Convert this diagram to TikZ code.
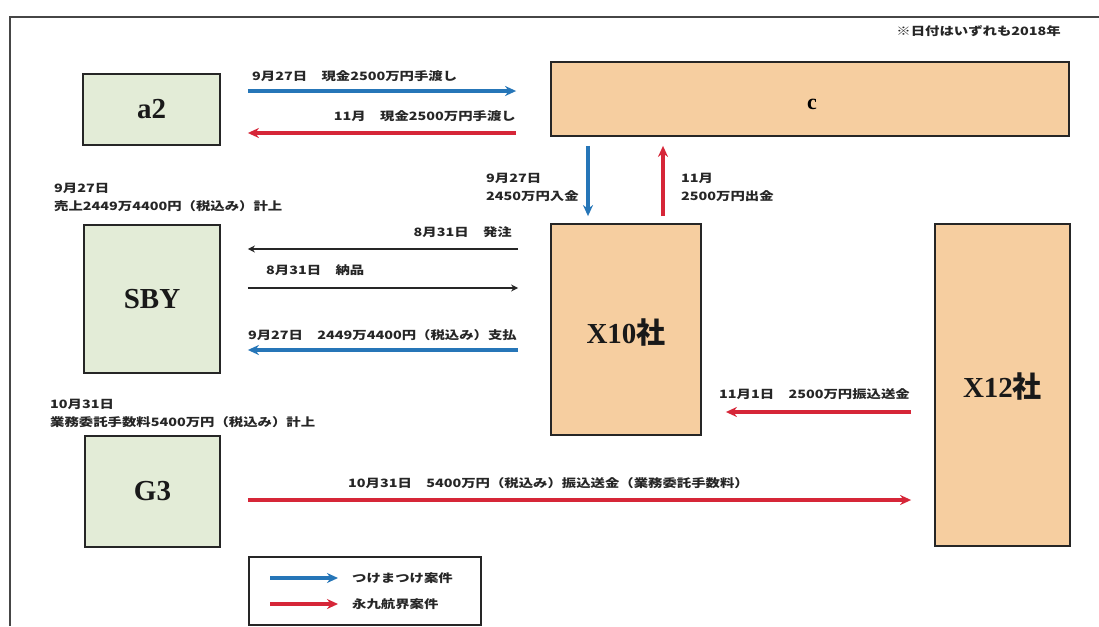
\documentclass[tikz,border=0pt]{standalone}
\usepackage{fontspec}
\setmainfont{Liberation Serif}
\newfontfamily\jp[FakeStretch=1.25]{Noto Sans CJK JP}
\newfontfamily\jpn{Noto Sans CJK JP}
\usetikzlibrary{arrows.meta}
\definecolor{arrblue}{RGB}{38,118,184}
\definecolor{arrred}{RGB}{214,38,56}
\definecolor{boxgreen}{RGB}{227,236,215}
\definecolor{boxtan}{RGB}{246,206,160}
\definecolor{frameline}{RGB}{70,70,70}
\tikzset{
  greenbox/.style={draw=black!85, line width=1.8pt, fill=boxgreen, inner sep=0pt},
  tanbox/.style={draw=black!85, line width=1.8pt, fill=boxtan, inner sep=0pt},
  boxlabel/.style={font=\fontsize{29}{30}\selectfont\bfseries, text=black!90},
  lbl/.style={font=\jp\bfseries\fontsize{11.5}{18}\selectfont, inner sep=0pt, align=left, text=black!85},
  bluearr/.style={draw=arrblue, line width=3.6pt, -{Stealth[length=11pt,width=10pt]}},
  redarr/.style={draw=arrred, line width=3.6pt, -{Stealth[length=11pt,width=10pt]}},
  blackarr/.style={draw=black!85, line width=1.8pt, -{Stealth[length=7pt,width=7pt]}},
}
\begin{document}
\begin{tikzpicture}[x=1pt,y=-1pt]
\useasboundingbox (0,0) rectangle (1099,626);
\fill[white] (0,0) rectangle (1099,626);
% frame
\draw[frameline, line width=2pt] (1099,17) -- (10,17) -- (10,626);

% boxes
\node[greenbox, minimum width=137pt, minimum height=71pt] (a2) at (151.5,109.5) {};
\node[boxlabel] at (a2) {a2};
\node[tanbox, minimum width=518pt, minimum height=74pt] (c) at (810,99) {};
\node[font=\fontsize{22}{22}\selectfont\bfseries] at (812,104) {c};
\node[greenbox, minimum width=136pt, minimum height=148pt] (sby) at (152,299) {};
\node[boxlabel] at (sby) {SBY};
\node[tanbox, minimum width=150pt, minimum height=211pt] (x10) at (626,329.5) {};
\node[boxlabel] at ([yshift=-3pt]x10.center) {X10{\jpn 社}};
\node[tanbox, minimum width=135pt, minimum height=322pt] (x12) at (1002.5,385) {};
\node[boxlabel] at ([yshift=-2pt]x12.center) {X12{\jpn 社}};
\node[greenbox, minimum width=135pt, minimum height=111pt] (g3) at (152.5,491.5) {};
\node[boxlabel] at (g3) {G3};

% legend
\node[draw=black!85, line width=1.5pt, fill=white, minimum width=232pt, minimum height=68pt, inner sep=0pt] (legend) at (365,591) {};
\coordinate (lb1) at (270,578);
\coordinate (lb2) at (338,578);
\coordinate (lr1) at (270,604);
\coordinate (lr2) at (338,604);
\draw[bluearr] (lb1) -- (lb2);
\draw[redarr] (lr1) -- (lr2);
\node[lbl, anchor=west] at (352,578) {つけまつけ案件};
\node[lbl, anchor=west] at (352,604) {永九航界案件};

% note
\node[lbl, anchor=east] at (1061,31) {※日付はいずれも2018年};

% connectors
\draw[bluearr] ([xshift=27pt,yshift=18.5pt]a2.east) -- ([xshift=-34pt,yshift=8pt]c.west);
\draw[redarr] ([xshift=-34pt,yshift=-34pt]c.west) -- ([xshift=27pt,yshift=-23.5pt]a2.east);
\draw[bluearr] ([xshift=-222pt,yshift=-9pt]c.south) -- ([xshift=-38pt,yshift=7pt]x10.north);
\draw[redarr] ([xshift=37pt,yshift=7pt]x10.north) -- ([xshift=-147pt,yshift=-9pt]c.south);
\draw[blackarr] ([xshift=-32pt,yshift=80.5pt]x10.west) -- ([xshift=27pt,yshift=50pt]sby.east);
\draw[blackarr] ([xshift=27pt,yshift=11pt]sby.east) -- ([xshift=-32pt,yshift=41.5pt]x10.west);
\draw[bluearr] ([xshift=-32pt,yshift=-20.5pt]x10.west) -- ([xshift=27pt,yshift=-51pt]sby.east);
\draw[redarr] ([xshift=-23pt,yshift=-27pt]x12.west) -- ([xshift=24pt,yshift=-82.5pt]x10.east);
\draw[redarr] ([xshift=27pt,yshift=-8.5pt]g3.east) -- ([xshift=-23pt,yshift=-115pt]x12.west);

% labels
\node[lbl, anchor=west] at (252,76) {9月27日　現金2500万円手渡し};
\node[lbl, anchor=east] at (516,116) {11月　現金2500万円手渡し};
\node[lbl, anchor=west] at (486,187) {9月27日\\2450万円入金};
\node[lbl, anchor=west] at (681,187) {11月\\2500万円出金};
\node[lbl, anchor=west] at (54,197) {9月27日\\売上2449万4400円（税込み）計上};
\node[lbl, anchor=east] at (512,232) {8月31日　発注};
\node[lbl, anchor=west] at (266,270) {8月31日　納品};
\node[lbl, anchor=east] at (517,335) {9月27日　2449万4400円（税込み）支払};
\node[lbl, anchor=east] at (910,394) {11月1日　2500万円振込送金};
\node[lbl, anchor=west] at (50,413) {10月31日\\業務委託手数料5400万円（税込み）計上};
\node[lbl, anchor=west] at (348,483) {10月31日　5400万円（税込み）振込送金（業務委託手数料）};
\end{tikzpicture}
\end{document}
